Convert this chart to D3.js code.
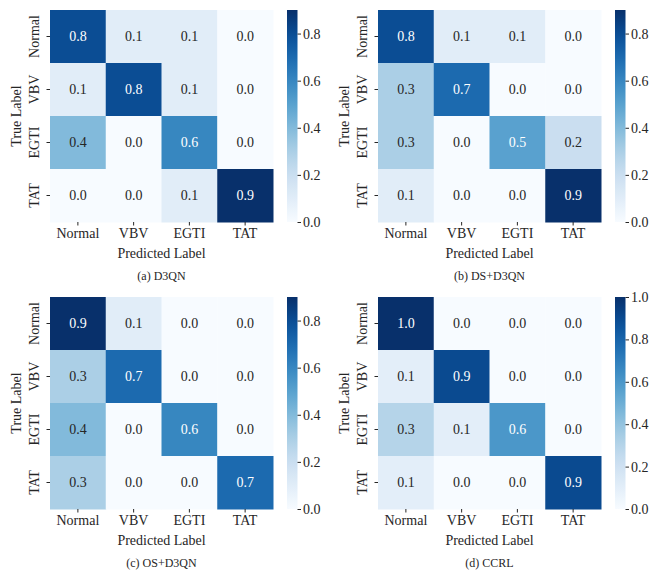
<!DOCTYPE html>
<html>
<head>
<meta charset="utf-8">
<script src="https://cdn.jsdelivr.net/npm/d3@7"></script>
<style>
  body { margin: 0; background: #fff; }
  text { font-family: "Liberation Serif", "Times New Roman", serif; }
</style>
</head>
<body>
<div id="chart-area"></div>
<script>
// class labels
var labels = ["Normal", "VBV", "EGTI", "TAT"];

// confusion matrices (rows = true label, cols = predicted label)
var d3qn = [
  [0.8, 0.1, 0.1, 0.0],
  [0.1, 0.8, 0.1, 0.0],
  [0.4, 0.0, 0.6, 0.0],
  [0.0, 0.0, 0.1, 0.9]
];
var dsD3qn = [
  [0.8, 0.1, 0.1, 0.0],
  [0.3, 0.7, 0.0, 0.0],
  [0.3, 0.0, 0.5, 0.2],
  [0.1, 0.0, 0.0, 0.9]
];
var osD3qn = [
  [0.9, 0.1, 0.0, 0.0],
  [0.3, 0.7, 0.0, 0.0],
  [0.4, 0.0, 0.6, 0.0],
  [0.3, 0.0, 0.0, 0.7]
];
var ccrl = [
  [1.0, 0.0, 0.0, 0.0],
  [0.1, 0.9, 0.0, 0.0],
  [0.3, 0.1, 0.6, 0.0],
  [0.1, 0.0, 0.0, 0.9]
];

var captions = ["(a) D3QN", "(b) DS+D3QN", "(c) OS+D3QN", "(d) CCRL"];
var matrices = [d3qn, dsD3qn, osD3qn, ccrl];

// colorbar ticks per panel
var cbarTicks = [
  [0, 0.2, 0.4, 0.6, 0.8],
  [0, 0.2, 0.4, 0.6, 0.8],
  [0, 0.2, 0.4, 0.6, 0.8],
  [0, 0.2, 0.4, 0.6, 0.8, 1.0]
];

//svg area
var svg = d3.select("#chart-area")
  .append("svg")
    .attr("width", 660)
    .attr("height", 573);

var defs = svg.append("defs");

// panel positions (heatmap area)
var panels = [
  {x: 50, y: 10},
  {x: 378, y: 10},
  {x: 50, y: 297},
  {x: 378, y: 297}
];
var hmW = 223, hmH = 212;

// seaborn-like text colour choice
function luminance(c) {
  var rgb = d3.rgb(c);
  var ch = [rgb.r, rgb.g, rgb.b].map(v => {
    v = v / 255;
    return v <= 0.03928 ? v / 12.92 : Math.pow((v + 0.055) / 1.055, 2.4);
  });
  return 0.2126 * ch[0] + 0.7152 * ch[1] + 0.0722 * ch[2];
}

matrices.forEach((m, i) => {
  var p = panels[i];
  var g = svg.append("g")
    .attr("transform", "translate(" + p.x + "," + p.y + ")");

  var vmax = d3.max(m, r => d3.max(r));
  var color = d3.scaleSequential(d3.interpolateBlues).domain([0, vmax]);

  var x = d3.scaleBand().domain(labels).range([0, hmW]);
  var y = d3.scaleBand().domain(labels).range([0, hmH]);

  var cells = [];
  m.forEach((row, r) => row.forEach((v, c) => {
    cells.push({row: labels[r], col: labels[c], value: v});
  }));

  g.selectAll("rect.cell")
    .data(cells)
    .enter().append("rect")
      .attr("class", "cell")
      .attr("x", d => x(d.col))
      .attr("y", d => y(d.row))
      .attr("width", x.bandwidth() + 0.5)
      .attr("height", y.bandwidth() + 0.5)
      .attr("fill", d => color(d.value));

  g.selectAll("text.annot")
    .data(cells)
    .enter().append("text")
      .attr("class", "annot")
      .attr("x", d => x(d.col) + x.bandwidth() / 2)
      .attr("y", d => y(d.row) + y.bandwidth() / 2)
      .attr("dy", "0.35em")
      .attr("text-anchor", "middle")
      .attr("font-size", 14)
      .attr("fill", d => luminance(color(d.value)) > 0.408 ? "#262626" : "#ffffff")
      .text(d => d.value.toFixed(1));

  // x axis
  var xAxis = g.append("g")
    .attr("transform", "translate(0," + hmH + ")")
    .call(d3.axisBottom(x).tickSize(3.5).tickPadding(3));
  xAxis.select(".domain").remove();
  xAxis.selectAll("text")
    .attr("font-size", 14)
    .attr("fill", "#262626")
    .style("font-family", "Liberation Serif, serif");
  xAxis.selectAll("line").attr("stroke", "#262626");

  // y axis
  var yAxis = g.append("g")
    .call(d3.axisLeft(y).tickSize(3.5).tickPadding(3));
  yAxis.select(".domain").remove();
  yAxis.selectAll("line").attr("stroke", "#262626");
  yAxis.selectAll("text")
    .attr("font-size", 14)
    .attr("fill", "#262626")
    .attr("text-anchor", "middle")
    .attr("x", null).attr("dy", null)
    .attr("transform", "translate(-11,0) rotate(-90)")
    .attr("y", 0)
    .style("font-family", "Liberation Serif, serif");

  // axis labels
  g.append("text")
    .attr("x", hmW / 2)
    .attr("y", hmH + 36)
    .attr("text-anchor", "middle")
    .attr("font-size", 14)
    .attr("fill", "#262626")
    .text("Predicted Label");
  g.append("text")
    .attr("transform", "rotate(-90)")
    .attr("x", -hmH / 2)
    .attr("y", -29)
    .attr("text-anchor", "middle")
    .attr("font-size", 14)
    .attr("fill", "#262626")
    .text("True Label");

  // caption
  g.append("text")
    .attr("x", hmW / 2)
    .attr("y", hmH + 58)
    .attr("text-anchor", "middle")
    .attr("font-size", 12)
    .attr("fill", "#262626")
    .text(captions[i]);

  // colorbar
  var gradId = "grad" + i;
  var grad = defs.append("linearGradient")
    .attr("id", gradId)
    .attr("x1", 0).attr("y1", 1).attr("x2", 0).attr("y2", 0);
  d3.range(0, 1.0001, 0.05).forEach(t => {
    grad.append("stop")
      .attr("offset", t)
      .attr("stop-color", d3.interpolateBlues(t));
  });
  var cb = g.append("g")
    .attr("transform", "translate(" + (hmW + 14) + ",0)");
  cb.append("rect")
    .attr("width", 10.5)
    .attr("height", hmH)
    .attr("fill", "url(#" + gradId + ")");
  var cy = d3.scaleLinear().domain([0, vmax]).range([hmH, 0]);
  var cbAxis = cb.append("g")
    .attr("transform", "translate(10.5,0)")
    .call(d3.axisRight(cy).tickValues(cbarTicks[i]).tickFormat(d3.format(".1f")).tickSize(3.5).tickPadding(2));
  cbAxis.select(".domain").remove();
  cbAxis.selectAll("line").attr("stroke", "#262626");
  cbAxis.selectAll("text")
    .attr("font-size", 14)
    .attr("fill", "#262626")
    .style("font-family", "Liberation Serif, serif");
});
</script>
</body>
</html>
